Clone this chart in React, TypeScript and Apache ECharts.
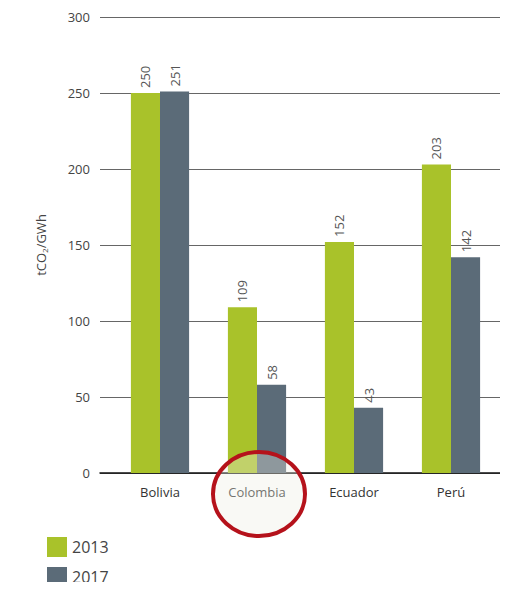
import React, { useEffect, useRef } from "react";
import * as echarts from "echarts";

const categories = ["Bolivia", "Colombia", "Ecuador", "Perú"];
const values2013 = [250, 109, 152, 203];
const values2017 = [251, 58, 43, 142];
const seriesNames = ["2013", "2017"];

export default function App() {
  const ref = useRef<HTMLDivElement>(null);
  useEffect(() => {
    const chart = echarts.init(ref.current!, null, { renderer: "svg" });
    const font = "Open Sans";
    const labelCfg = {
      show: true,
      position: "top" as const,
      rotate: 90,
      align: "left" as const,
      verticalAlign: "middle" as const,
      distance: 5,
      color: "#555",
      fontSize: 13,
      fontFamily: font,
    };
    chart.setOption({
      animation: false,
      textStyle: { fontFamily: font },
      grid: [
        { left: 100, right: 8, top: 17, bottom: 117 },
        { left: 111.5, width: 388, top: 17, bottom: 117 },
      ],
      legend: {
        orient: "vertical",
        left: 47,
        top: 537,
        height: 60,
        padding: 0,
        itemWidth: 20,
        itemHeight: 20,
        itemGap: 10,
        icon: "rect",
        textStyle: { fontSize: 16, color: "#444", fontFamily: font },
        data: seriesNames,
      },
      xAxis: [
        {
          gridIndex: 0,
          type: "value",
          min: 0,
          max: 1,
          axisLine: { show: true, lineStyle: { color: "#111", width: 1.5 } },
          axisTick: { show: false },
          axisLabel: { show: false },
          splitLine: { show: false },
        },
        {
          gridIndex: 1,
          type: "category",
          data: categories,
          axisLine: { show: false },
          axisTick: { show: false },
          axisLabel: { color: "#333", fontSize: 13, margin: 12, fontFamily: font },
        },
      ],
      yAxis: [
        {
          gridIndex: 0,
          type: "value",
          min: 0,
          max: 300,
          interval: 50,
          name: "{a|tCO}{s|2}{a|/GWh}",
          nameLocation: "middle",
          nameGap: 52,
          nameRotate: 90,
          nameTextStyle: {
            rich: {
              a: { fontSize: 13, color: "#444", fontFamily: font },
              s: { fontSize: 8, color: "#444", fontFamily: font, verticalAlign: "bottom", padding: [6, 0, 0, 0] },
            },
          },
          axisLine: { show: false },
          axisTick: { show: false },
          axisLabel: { color: "#444", fontSize: 13, margin: 10, fontFamily: font },
          splitLine: { show: true, lineStyle: { color: "#666", width: 1 } },
        },
        {
          gridIndex: 1,
          type: "value",
          min: 0,
          max: 300,
          interval: 50,
          show: false,
          splitLine: { show: false },
        },
      ],
      series: [
        {
          name: seriesNames[0],
          type: "bar",
          xAxisIndex: 1,
          yAxisIndex: 1,
          data: values2013,
          barGap: "0%",
          barCategoryGap: "40%",
          itemStyle: { color: "#a9c22a" },
          label: labelCfg,
        },
        {
          name: seriesNames[1],
          type: "bar",
          xAxisIndex: 1,
          yAxisIndex: 1,
          data: values2017,
          barGap: "0%",
          barCategoryGap: "40%",
          itemStyle: { color: "#5b6b78" },
          label: labelCfg,
        },
      ],
      graphic: [
        {
          type: "ellipse",
          shape: { cx: 259, cy: 494, rx: 46, ry: 42 },
          style: { fill: "rgba(238,238,225,0.35)", stroke: "#b5121b", lineWidth: 4 },
          z: 100,
        },
      ],
    });
    return () => chart.dispose();
  }, []);
  return <div ref={ref} style={{ width: 508, height: 590, margin: -8 }} />;
}
